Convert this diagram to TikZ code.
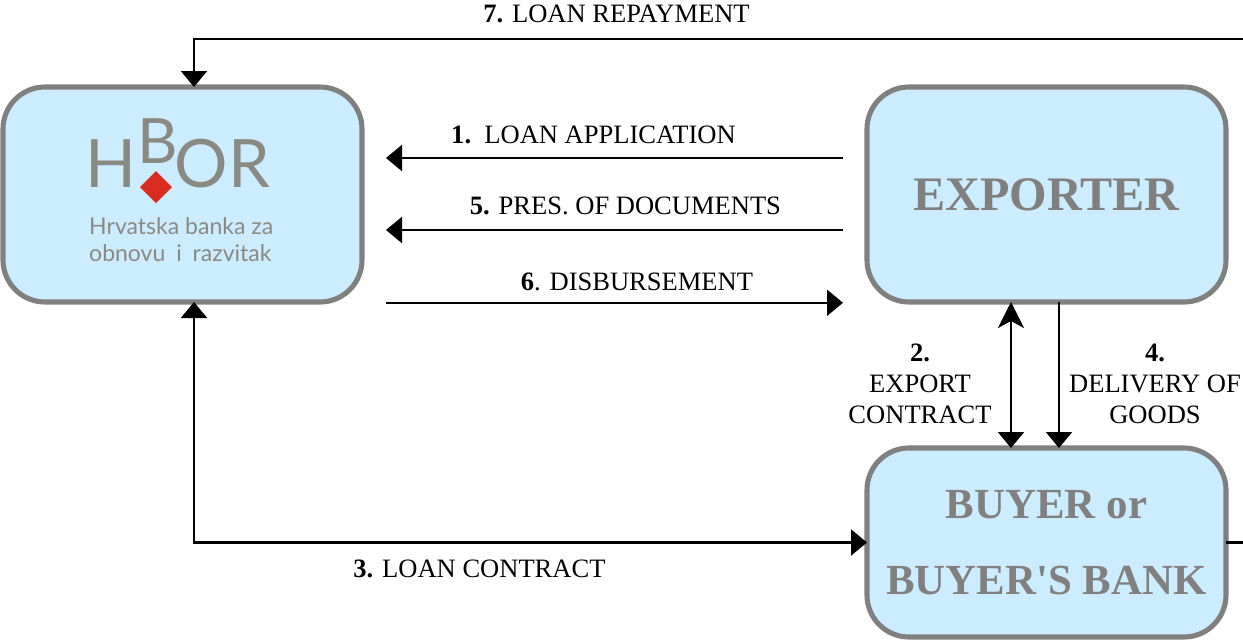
\documentclass[tikz,border=0pt]{standalone}
\usepackage{fontspec}
\setmainfont{Liberation Serif}
\newfontfamily\plainserif{Liberation Serif}
\newfontfamily\logofont{Lato}
\usetikzlibrary{arrows.meta,calc,positioning}
\definecolor{boxfill}{HTML}{CCECFF}
\definecolor{boxline}{HTML}{808080}
\definecolor{logogrey}{HTML}{8A8A85}
\definecolor{logored}{HTML}{D92B20}
\tikzset{
  party/.style={draw=boxline,fill=boxfill,line width=1.45pt,rounded corners=0.42cm,minimum width=3.59cm,outer sep=0pt,text=boxline,align=center,font=\fontsize{13.7}{16}\selectfont\bfseries},
  flow/.style={line width=0.6pt,-{Triangle[length=1.6mm,width=2.6mm]}},
  twoway/.style={line width=0.6pt,{Triangle[length=1.6mm,width=2.6mm]}-{Triangle[length=1.6mm,width=2.6mm]}},
  lbl/.style={font=\fontsize{7.55}{8.8}\selectfont,inner sep=0pt,anchor=base},
  logotxt/.style={text=logogrey,inner sep=0pt,anchor=base west}
}
\begin{document}
\begin{tikzpicture}
\useasboundingbox (0,0) rectangle (12.43,6.4);
\node[party,minimum height=2.15cm] (hbor) at (1.825,4.455) {};
\node[party,minimum height=2.15cm] (exporter) at (10.465,4.455) {EXPORTER};
\node[party,minimum height=1.89cm,font=\plainserif\fontsize{12.2}{21.5}\selectfont\bfseries] (buyer) at (10.465,0.975) {BUYER or\\BUYER'S BANK};
% logo
\node[logotxt,font=\logofont\fontsize{19}{20}\selectfont] (logoH) at (0.85,4.53) {H};
\node[logotxt,font=\logofont\fontsize{17.8}{20}\selectfont] (logoB) at (1.37,4.77) {B};
\node[logotxt,font=\logofont\fontsize{19}{20}\selectfont] (logoOR) at (1.74,4.53) {OR};
\fill[logored] (1.40,4.53) -- (1.56,4.69) -- (1.72,4.53) -- (1.56,4.37) -- cycle;
\node[logotxt,font=\logofont\fontsize{6.55}{7.6}\selectfont] (logoA) at (0.885,4.06) {Hrvatska banka za};
\node[logotxt,font=\logofont\fontsize{6.55}{7.6}\selectfont] (logoC) at (0.885,3.79) {obnovu\hspace{0.05cm} i\hspace{0.05cm} razvitak};
% free ends
\coordinate (hbortop) at ($(hbor.north)+(0.115,0)$);
\coordinate (hborbot) at ($(hbor.south)+(0.115,0)$);
\coordinate (topright) at (12.43,6.01);
\coordinate (topleft) at (hbortop |- topright);
\coordinate (rightend) at (12.43,0.975);
\coordinate (corner) at (hborbot |- buyer.west);
% arrows
\draw[flow] (topright) -- (topleft) -- (hbortop);
\draw[flow] ($(exporter.west)+(-0.24,0.365)$) -- ($(hbor.east)+(0.24,0.365)$);
\draw[flow] ($(exporter.west)+(-0.24,-0.355)$) -- ($(hbor.east)+(0.24,-0.355)$);
\draw[flow] ($(hbor.east)+(0.24,-1.083)$) -- ($(exporter.west)+(-0.24,-1.083)$);
\draw[twoway] (hborbot) -- (corner) -- (buyer.west);
\draw[line width=0.6pt,{Stealth[length=2.6mm,width=2.6mm,inset=0.7mm]}-{Triangle[length=1.6mm,width=2.6mm]}] ($(exporter.south)+(-0.355,0)$) -- ($(buyer.north)+(-0.355,0)$);
\draw[flow] ($(exporter.south)+(0.125,0)$) -- ($(buyer.north)+(0.125,0)$);
\draw[line width=0.6pt] (buyer.east) -- (rightend);
% labels
\node[lbl] (l7) at (6.165,6.18) {\textbf{7.} LOAN REPAYMENT};
\node[lbl] (l1) at (5.935,4.97) {\textbf{1.}\ \ LOAN APPLICATION};
\node[lbl] (l5) at (6.255,4.26) {\textbf{5.} PRES. OF DOCUMENTS};
\node[lbl] (l6) at (6.37,3.50) {\textbf{6}. DISBURSEMENT};
\node[lbl] (l3) at (4.795,0.63) {\textbf{3.} LOAN CONTRACT};
\node[lbl] (l2a) at (9.20,2.79) {\textbf{2.}};
\node[lbl] (l2b) at (9.20,2.48) {EXPORT};
\node[lbl] (l2c) at (9.20,2.17) {CONTRACT};
\node[lbl] (l4a) at (11.55,2.79) {\textbf{4.}};
\node[lbl] (l4b) at (11.55,2.48) {DELIVERY OF};
\node[lbl] (l4c) at (11.55,2.17) {GOODS};
\end{tikzpicture}
\end{document}
